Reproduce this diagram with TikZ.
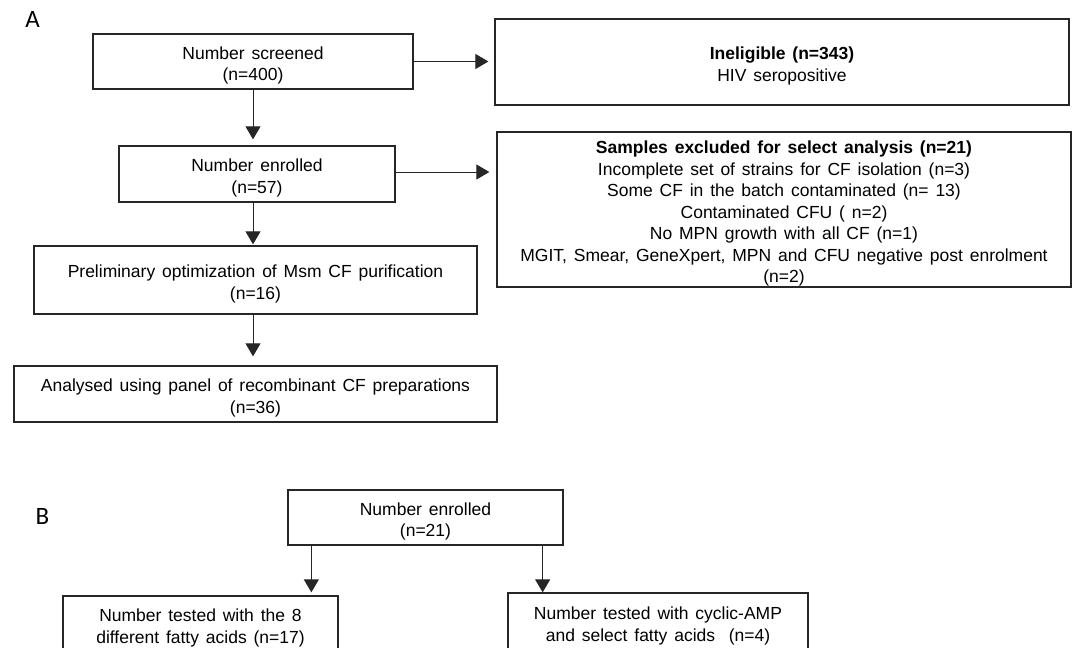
\documentclass[tikz,border=0pt]{standalone}
\usepackage{fontspec}
\setmainfont{Liberation Sans}
\newfontfamily\lblfont{Carlito}
\newcommand\myboxfont{\fontsize{17.5}{21.5}\selectfont\spaceskip=0.39em plus 0.1em\relax}
\newcommand\mystrut{\rule{0pt}{21pt}}
\usetikzlibrary{arrows.meta}
\begin{document}
\begin{tikzpicture}[x=1pt,y=-1pt,
  box/.style={draw=black!85, line width=1.3pt, inner sep=0pt, align=center,
    font=\myboxfont},
  arr/.style={-{Triangle[length=13pt,width=15pt]}, line width=1pt, draw=black!85, fill=black},
  lbl/.style={font=\lblfont\fontsize{25}{28}\selectfont, inner sep=0pt}]
\useasboundingbox (0,0) rectangle (1074,648);
\clip (0,0) rectangle (1074,648);
\fill[white] (0,0) rectangle (1074,648);
% Panel A
\node[lbl] (la) at (32.5,19.5) {A};
\node[box, minimum width=320pt, minimum height=55pt] (scr) at (253,61.5) {\mystrut Number screened\\(n=400)};
\node[box, minimum width=574pt, minimum height=86pt] (inel) at (782,62) {\mystrut\textbf{Ineligible (n=343)}\\HIV seropositive};
\node[box, minimum width=276pt, minimum height=56pt] (enr) at (257,174) {\mystrut Number enrolled\\(n=57)};
\node[box, minimum width=574pt, minimum height=155pt] (excl) at (784,209.5) {\mystrut\textbf{Samples excluded for select analysis (n=21)}\\
Incomplete set of strains for CF isolation (n=3)\\
Some CF in the batch contaminated (n= 13)\\
Contaminated CFU ( n=2)\\
No MPN growth with all CF (n=1)\\
MGIT, Smear, GeneXpert, MPN and CFU negative post enrolment\\
(n=2)};
\node[box, minimum width=443pt, minimum height=68pt] (prel) at (255.5,280) {\mystrut Preliminary optimization of Msm CF purification\\(n=16)};
\node[box, minimum width=483pt, minimum height=56pt] (ana) at (255.5,394) {\mystrut Analysed using panel of recombinant CF preparations\\(n=36)};
\draw[arr, shorten >=6pt] (scr.south) -- (scr.south |- enr.north);
\draw[arr, shorten >=6pt] (scr.east) -- (scr.east -| inel.west);
\draw[arr, shorten >=7pt] ([yshift=2pt]enr.east) -- ([yshift=2pt]enr.east -| excl.west);
\draw[arr, shorten >=1pt] (scr.south |- enr.south) -- (scr.south |- prel.north);
\draw[arr, shorten >=9pt] (scr.south |- prel.south) -- (scr.south |- ana.north);
% Panel B
\node[lbl] (lb) at (42.5,516.5) {B};
\node[box, minimum width=275pt, minimum height=55pt] (benr) at (425.5,517.5) {\mystrut Number enrolled\\(n=21)};
\node[box, minimum width=275pt, minimum height=56pt] (lt) at (200.5,624) {\mystrut Number tested with the 8\\different fatty acids (n=17)};
\node[box, minimum width=300pt, minimum height=58pt] (rt) at (658,622) {\mystrut Number tested with cyclic-AMP\\and select fatty acids\ \ (n=4)};
\draw[arr, shorten >=3pt] ([xshift=24pt]benr.south west) -- ([xshift=24pt]benr.south west |- lt.north);
\draw[arr] ([xshift=-21pt]benr.south east) -- ([xshift=-21pt]benr.south east |- rt.north);
\end{tikzpicture}
\end{document}
